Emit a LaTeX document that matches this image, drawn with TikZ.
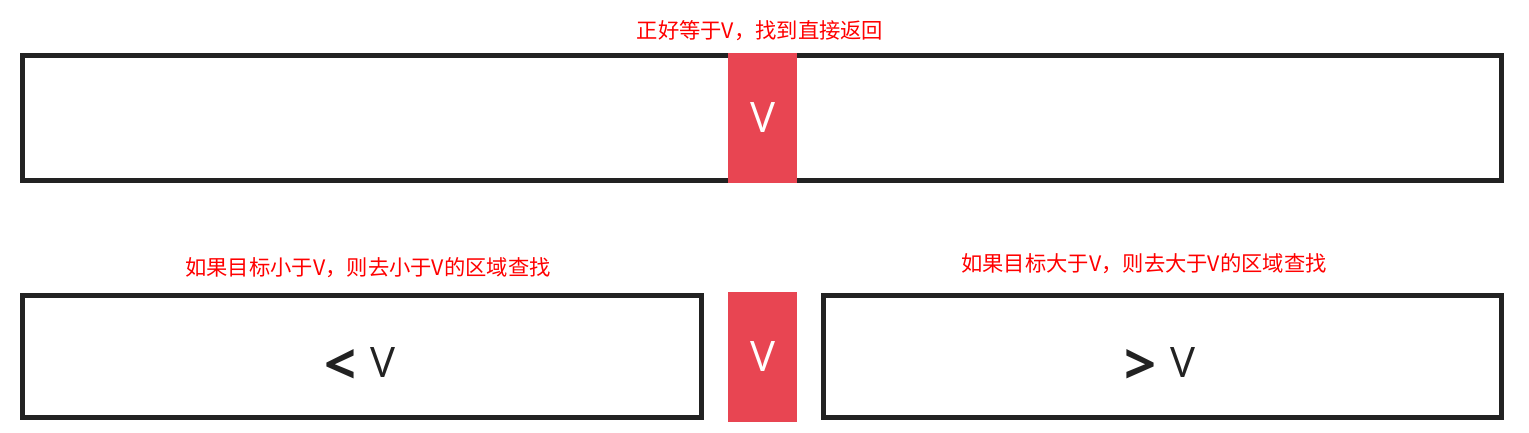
\documentclass[tikz,border=0pt]{standalone}
\usepackage{fontspec}
\setmainfont{Open Sans}
\newfontfamily\cjk{Noto Sans CJK SC}
\definecolor{vred}{RGB}{232,69,82}
\definecolor{boxline}{RGB}{34,34,34}
\definecolor{txtred}{RGB}{255,0,0}
\newcommand{\bigsym}[1]{\raisebox{-7pt}{\fontsize{56}{56}\selectfont\bfseries #1}}
\begin{document}
\begin{tikzpicture}[x=1pt,y=-1pt,
  frame/.style={draw=boxline,line width=5pt,fill=white,inner sep=0pt,outer sep=0pt},
  vbox/.style={fill=vred,inner sep=0pt,outer sep=0pt,minimum width=69pt,minimum height=130pt,
    text=white,font=\fontsize{42}{42}\selectfont},
  note/.style={text=txtred,font=\cjk\fontsize{21.3}{21.3}\selectfont,inner sep=0pt},
  big/.style={text=boxline,font=\fontsize{42}{42}\selectfont,inner sep=0pt}]
\useasboundingbox (0,0) rectangle (1529,433);
% top row
\node[frame,minimum width=1479pt,minimum height=125pt] (topframe) at (762,118) {};
\node[vbox] (topv) at (762.5,118) {V};
\node[note] (toplabel) at (760,31) {正好等于V，找到直接返回};
% bottom row
\node[frame,minimum width=679pt,minimum height=122pt] (leftframe) at (362,356.5) {};
\node[frame,minimum width=678pt,minimum height=122pt] (rightframe) at (1162.5,356.5) {};
\node[vbox] (botv) at (762.5,357) {V};
\node[big,anchor=base] (lt) at (360,377) {\bigsym{<}\,\,V};
\node[big,anchor=base] (gt) at (1160,377) {\bigsym{>}\,\,V};
\node[note] (leftlabel) at (368,268) {如果目标小于V，则去小于V的区域查找};
\node[note] (rightlabel) at (1144,264) {如果目标大于V，则去大于V的区域查找};
\end{tikzpicture}
\end{document}
